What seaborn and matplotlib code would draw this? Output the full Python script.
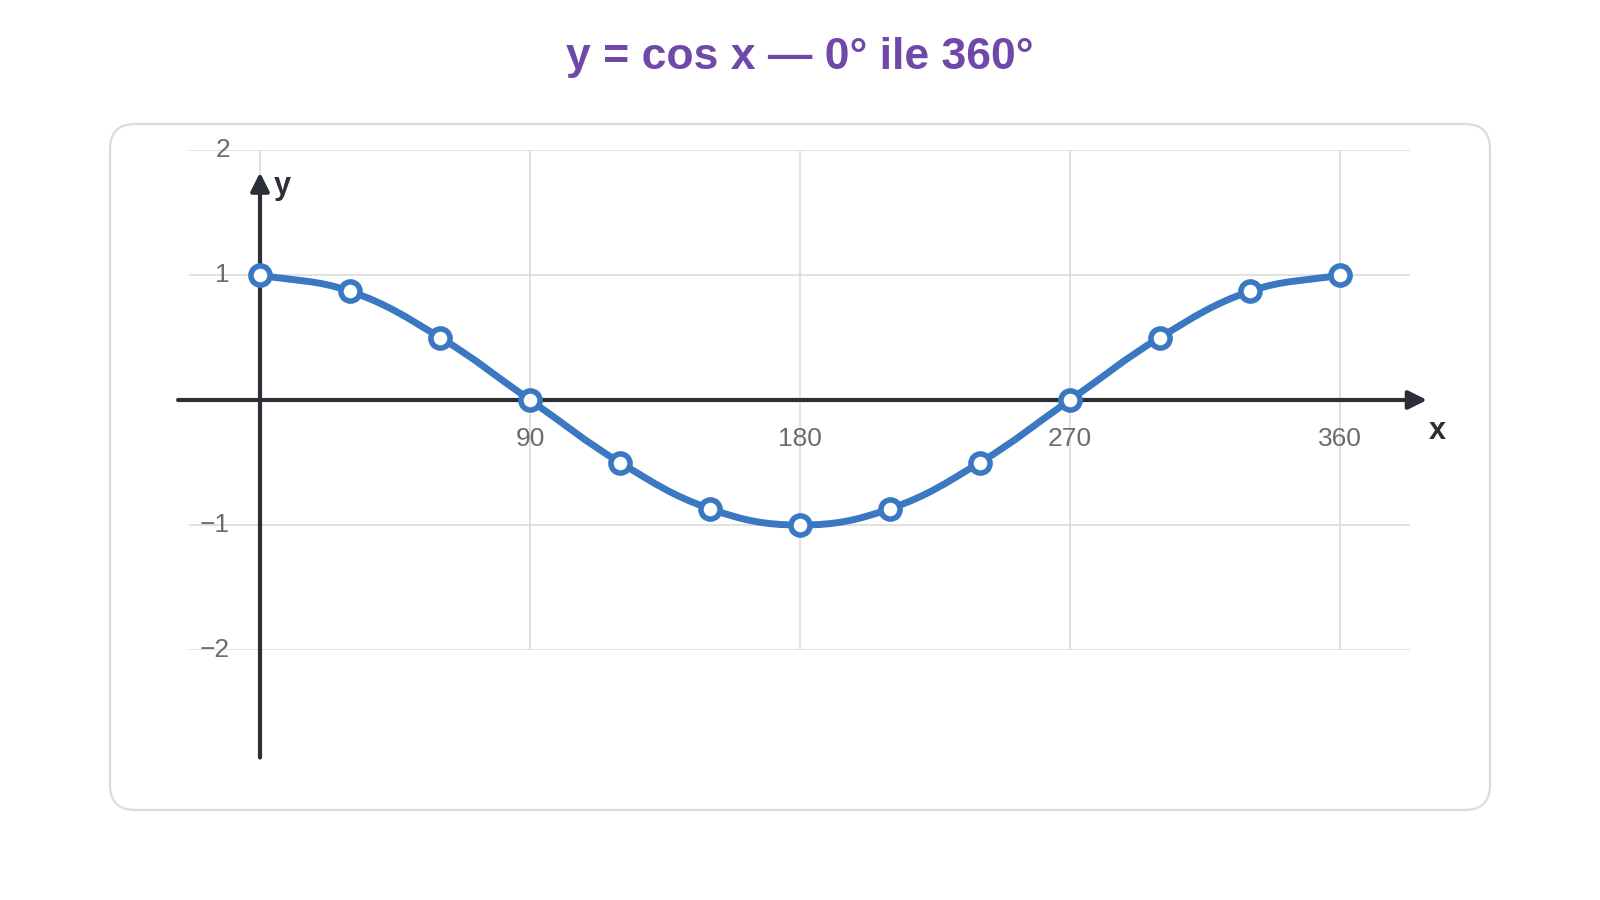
import matplotlib
matplotlib.use('Agg')
import matplotlib.pyplot as plt
import seaborn as sns
import pandas as pd
import numpy as np
from matplotlib.patches import FancyBboxPatch, PathPatch
from matplotlib.path import Path


# data (every 30 degrees)
angles = [0, 30, 60, 90, 120, 150, 180, 210, 240, 270, 300, 330, 360]
cos_values = [1, 0.87, 0.5, 0, -0.5, -0.87, -1, -0.87, -0.5, 0, 0.5, 0.87, 1]

x_ticks = [0, 90, 180, 270, 360]
x_tick_labels = ['', '90', '180', '270', '360']
y_ticks = [-2, -1, 0, 1, 2]
y_tick_labels = ['\u22122', '\u22121', '', '1', '2']

title = 'y = cos x \u2014 0\u00b0 ile 360\u00b0'

line_color = '#3a78c2'
axis_color = '#2b2f38'
grid_color = '#dcdcdc'
label_color = '#6b6b70'
title_color = '#6f48aa'


def smooth_path(xs, ys, sx, sy, tension=0.4):
    # spline through the points, control points like a tension-based line chart
    pts = np.column_stack([np.asarray(xs, float) * sx, np.asarray(ys, float) * sy])
    n = len(pts)
    cps = []
    for i in range(n):
        prev = pts[max(i - 1, 0)]
        cur = pts[i]
        nxt = pts[min(i + 1, n - 1)]
        d01 = np.hypot(*(cur - prev))
        d12 = np.hypot(*(nxt - cur))
        tot = d01 + d12
        s01 = d01 / tot if tot else 0
        s12 = d12 / tot if tot else 0
        cps.append((cur - tension * s01 * (nxt - prev),
                    cur + tension * s12 * (nxt - prev)))
    verts = [pts[0]]
    codes = [Path.MOVETO]
    for i in range(n - 1):
        verts += [cps[i][1], cps[i + 1][0], pts[i + 1]]
        codes += [Path.CURVE4] * 3
    verts = np.array(verts) / np.array([sx, sy])
    return Path(verts, codes)


sns.set_theme(style='white')
plt.rcParams['font.family'] = ['Liberation Sans', 'DejaVu Sans']

df = pd.DataFrame({'x': angles, 'y': cos_values})

fig = plt.figure(figsize=(16, 9), dpi=100)

# card behind the chart
card = FancyBboxPatch((1.1, 0.9), 13.8, 6.86,
                      boxstyle='round,pad=0,rounding_size=0.25',
                      transform=fig.dpi_scale_trans,
                      facecolor='white', edgecolor='#dedbde', lw=1.6, zorder=-5)
fig.patches.append(card)

ax = fig.add_axes([189 / 1600, 1 - 650 / 900, 1221 / 1600, 500 / 900])
ax.set_zorder(2)
ax.set_facecolor('none')
ax.set_xlim(-71 / 3, 1150 / 3)
ax.set_ylim(-2, 2)

ax.set_xticks(x_ticks)
ax.set_yticks(y_ticks)
ax.set_xticklabels([])
ax.set_yticklabels([])
ax.tick_params(length=0)
ax.grid(True, color=grid_color, lw=1.2)
for s in ax.spines.values():
    s.set_visible(False)

# axis arrows through the origin
ax.annotate('', xy=(389, 0), xytext=(-27.3, 0),
            arrowprops=dict(arrowstyle='-|>', lw=3, color=axis_color,
                            mutation_scale=28, shrinkA=0, shrinkB=0),
            annotation_clip=False, zorder=3)
ax.annotate('', xy=(0, 1.82), xytext=(0, -2.86),
            arrowprops=dict(arrowstyle='-|>', lw=3, color=axis_color,
                            mutation_scale=28, shrinkA=0, shrinkB=0),
            annotation_clip=False, zorder=3)

ax.text(392.5, -0.25, 'x', fontsize=22, fontweight='bold', color=axis_color,
        ha='center', va='center', clip_on=False)
ax.text(7.5, 1.71, 'y', fontsize=22, fontweight='bold', color=axis_color,
        ha='center', va='center', clip_on=False)

# tick labels next to the axes
for xv, lab in zip(x_ticks, x_tick_labels):
    if lab:
        ax.annotate(lab, (xv, 0), xytext=(0, -39), textcoords='offset pixels',
                    ha='center', va='center', fontsize=19, color=label_color)
for yv, lab in zip(y_ticks, y_tick_labels):
    if lab:
        ax.annotate(lab, (0, yv), xytext=(-30, 0), textcoords='offset pixels',
                    ha='right', va='center', fontsize=19, color=label_color,
                    annotation_clip=False)

# smooth curve through the points, then the point markers
curve = smooth_path(angles, cos_values, 3.0, 125.0)
ax.add_patch(PathPatch(curve, facecolor='none', edgecolor=line_color,
                       lw=5, capstyle='round', joinstyle='round', zorder=4))
sns.scatterplot(data=df, x='x', y='y', ax=ax, s=190, color='white',
                edgecolor=line_color, linewidth=4, zorder=5)
ax.set_xlabel('')
ax.set_ylabel('')

fig.text(0.5, 1 - 57 / 900, title, fontsize=32, fontweight='bold',
         color=title_color, ha='center', va='center')

fig.savefig('out.png', dpi=100, facecolor='white')
plt.close(fig)
